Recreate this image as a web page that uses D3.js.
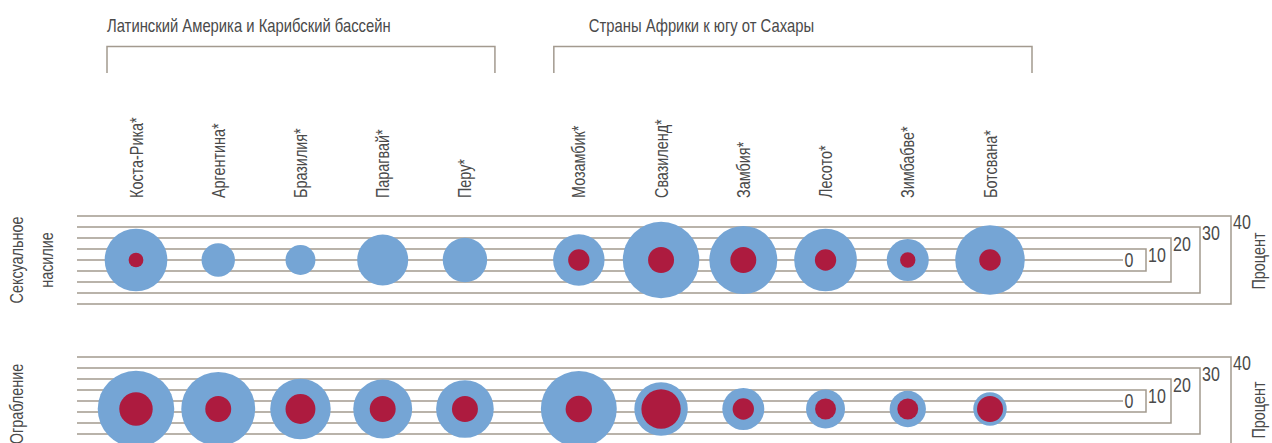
<!DOCTYPE html>
<html>
<head>
<meta charset="utf-8">
<script src="https://cdn.jsdelivr.net/npm/d3@7"></script>
<style>
  body { margin: 0; background: #fff; }
  text { font-family: "Liberation Sans", Arial, sans-serif; fill: #4a4a4a; }
</style>
</head>
<body>
<script>
// Countries and their region group (0 = Latin America, 1 = Sub-Saharan Africa)
var countries = ["Коста-Рика*", "Аргентина*", "Бразилия*", "Парагвай*", "Перу*",
                 "Мозамбик*", "Свазиленд*", "Замбия*", "Лесото*", "Зимбабве*", "Ботсвана*"];
var countryGroup = [0, 0, 0, 0, 0, 1, 1, 1, 1, 1, 1];
var groups = ["Латинский Америка и Карибский бассейн", "Страны Африки к югу от Сахары"];

// percent values (outer blue / inner red)
var sexualOuter  = [28.5, 15.2, 13.6, 23.2, 20.2, 23.4, 34.8, 30.9, 28.5, 19.1, 31.6];
var sexualInner  = [6.7, null, null, null, null, 9.7, 11.8, 11.8, 9.7, 7.0, 9.8];
var robberyOuter = [34.8, 33.6, 27.5, 26.8, 26.2, 34.5, 24.3, 19.1, 17.7, 16.5, 15.2];
var robberyInner = [15.2, 11.8, 13.6, 11.8, 11.8, 12.0, 17.9, 9.7, 9.5, 9.5, 11.8];

var rowLabels = [["Сексуальное", "насилие"], ["Ограбление"]];
var scaleTicks = [0, 10, 20, 30, 40];
var unitLabel = "Процент";

// layout
var width = 1272, height = 443;
var rows = [
  {outer: sexualOuter, inner: sexualInner, lineY: 260, dotY: 260, labelY: 260},
  {outer: robberyOuter, inner: robberyInner, lineY: 401, dotY: 409, labelY: 404}
];
var legendX = [1123, 1146, 1171, 1200, 1231];
var groupPad = [[29, 30], [25, 42]];
var groupTitleShift = [0, 35];
var lineStart = 77;
var lineColor = "#a39a8f";
var blue = "#75a5d5";
var red = "#ad1b3f";
var narrow = 0.8; // squeeze text horizontally to mimic a condensed face

var svg = d3.select("body").append("svg")
  .attr("width", width)
  .attr("height", height);

// draw a condensed text, optionally rotated
function label(parent, px, py, rot, str, size, anchor) {
  return parent.append("text")
    .attr("transform", "translate(" + px + "," + py + ") rotate(" + rot + ") scale(" + narrow + ",1)")
    .attr("text-anchor", anchor || "start")
    .style("font-size", size + "px")
    .text(str);
}

// x position: index plus an extra gap between the two regions
var gapSlots = 0.385;
var slot = function(i) { return i + countryGroup[i] * gapSlots; };
var x = d3.scaleLinear()
  .domain([0, countries.length - 1 + gapSlots])
  .range([136, 990]);

// radius scale: linear, matching the bracket legend (40% -> 44px)
var r = d3.scaleLinear().domain([0, 40]).range([0, 44]);

// group titles and brackets
groups.forEach(function(g, gi) {
  var idx = d3.range(countries.length).filter(function(i) { return countryGroup[i] === gi; });
  var x0 = x(slot(idx[0])) - groupPad[gi][0];
  var x1 = x(slot(idx[idx.length - 1])) + groupPad[gi][1];
  svg.append("path")
    .attr("d", "M" + x0 + ",73V46.5H" + x1 + "V73")
    .attr("fill", "none")
    .attr("stroke", lineColor)
    .attr("stroke-width", 1.5);
  label(svg, x0 + groupTitleShift[gi], 31.5, 0, g, 18.5);
});

// country labels (rotated)
countries.forEach(function(c, i) {
  label(svg, x(slot(i)) + 6.5, 198, -90, c, 18);
});

rows.forEach(function(row, ri) {
  var g = svg.append("g");

  // horizontal guide lines + bracket legend
  scaleTicks.forEach(function(t, k) {
    var off = r(t);
    var xe = legendX[k];
    if (t === 0) {
      g.append("line")
        .attr("x1", lineStart).attr("x2", xe)
        .attr("y1", row.lineY).attr("y2", row.lineY)
        .attr("stroke", lineColor).attr("stroke-width", 1.5);
    } else {
      g.append("path")
        .attr("d", "M" + lineStart + "," + (row.lineY - off) + "H" + xe +
                   "V" + (row.lineY + off) + "H" + lineStart)
        .attr("fill", "none")
        .attr("stroke", lineColor).attr("stroke-width", 1.5);
    }
    label(g, xe + (t === 0 ? 1.5 : 2), t === 0 ? row.lineY + 7 : row.lineY - off + 12.5, 0, t, 20);
  });

  // outer circles
  g.selectAll("circle.outer")
    .data(row.outer)
    .join("circle")
    .attr("class", "outer")
    .attr("cx", function(d, i) { return x(slot(i)); })
    .attr("cy", row.dotY)
    .attr("r", function(d) { return r(d); })
    .attr("fill", blue);

  // inner circles
  g.selectAll("circle.inner")
    .data(row.inner.map(function(v, i) { return {v: v, i: i}; }).filter(function(d) { return d.v != null; }))
    .join("circle")
    .attr("class", "inner")
    .attr("cx", function(d) { return x(slot(d.i)); })
    .attr("cy", row.dotY)
    .attr("r", function(d) { return r(d.v); })
    .attr("fill", red);

  // row label on the left
  rowLabels[ri].forEach(function(l, li) {
    label(g, 22.5 + li * 30.5, row.labelY, -90, l, 18, "middle");
  });

  // unit label on the right
  label(g, 1265, row.dotY + 1, -90, unitLabel, 18, "middle");
});
</script>
</body>
</html>
